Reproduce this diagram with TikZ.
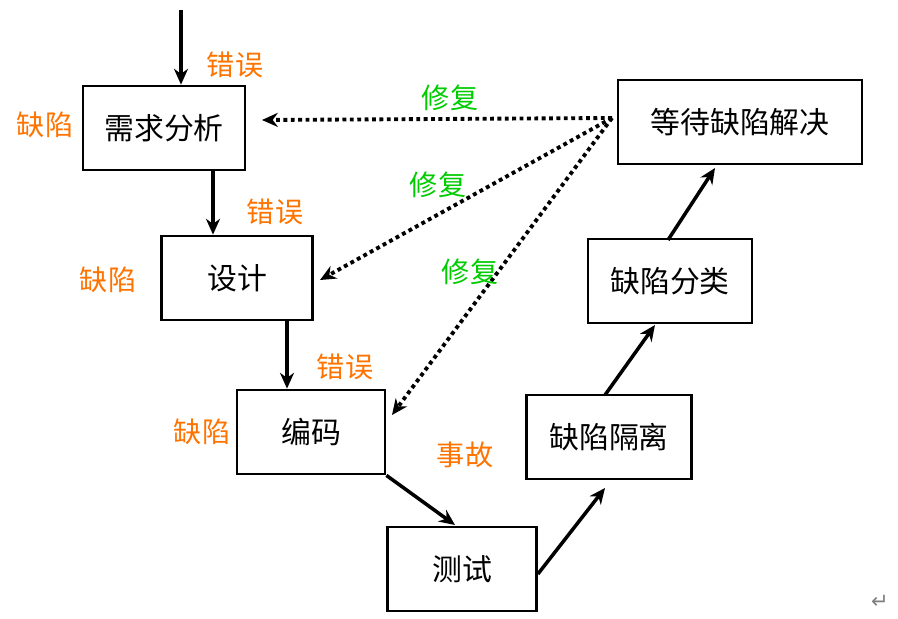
\documentclass[tikz,border=0pt]{standalone}
\usepackage{fontspec}
\setmainfont{Noto Sans CJK SC}
\newfontfamily\djsans{DejaVu Sans}
\usetikzlibrary{arrows.meta}
\begin{document}
\begin{tikzpicture}[x=0.02cm,y=-0.02cm,
 box/.style={draw,line width=1.6pt,minimum width=#1*0.02cm,minimum height=1.68cm,inner sep=0pt,font=\fontsize{17}{17}\selectfont},
 box/.default=150,
 arr/.style={-{Stealth[length=9pt,width=8pt]},line width=2pt},
 dot/.style={-{Stealth[length=9pt,width=8pt]},line width=2.2pt,dotted},
 err/.style={text=orange!90!red,font=\fontsize{16}{16}\selectfont},
 fix/.style={text=green!80!black,font=\fontsize{16}{16}\selectfont}]
\useasboundingbox (0,0) rectangle (898,618);
\node[box=162] (a) at (164,128) {需求分析};
\node[box=151] (b) at (237,278) {设计};
\node[box=148] (c) at (311,432) {编码};
\node[box=149] (d) at (462,569) {测试};
\node[box=165] (e) at (609,437) {缺陷隔离};
\node[box=164] (f) at (670,281) {缺陷分类};
\node[box=244] (g) at (740,122) {等待缺陷解决};
\coordinate (s) at (181,10);
\draw[arr] (s) -- (a.north -| s);
\draw[arr] (a.south -| 213,0) -- (b.north -| 213,0);
\draw[arr] (b.south -| 287,0) -- (c.north -| 287,0);
\draw[arr] (c.south east) -- (455,525);
\draw[arr] (d.east) ++(0,5) -- (605,488);
\draw[arr] (605,395) -- (655,325);
\draw[arr] (668,240) -- (715,168);
\coordinate (g1) at (612,118);
\draw[dot] (g1) -- (262,120);
\draw[dot] (g1) -- (320,280);
\draw[dot] (g1) -- (392,415);
\node[err] (l1) at (235,65) {错误};
\node[err] (l2) at (45,125) {缺陷};
\node[err] (l3) at (275,212) {错误};
\node[err] (l4) at (108,280) {缺陷};
\node[err] (l5) at (345,367) {错误};
\node[err] (l6) at (202,432) {缺陷};
\node[err] (l7) at (465,455) {事故};
\node[fix] (m1) at (450,98) {修复};
\node[fix] (m2) at (438,185) {修复};
\node[fix] (m3) at (470,272) {修复};
\node[text=gray,font=\djsans\fontsize{12}{12}\selectfont] (r) at (880,602) {↵};
\end{tikzpicture}
\end{document}
